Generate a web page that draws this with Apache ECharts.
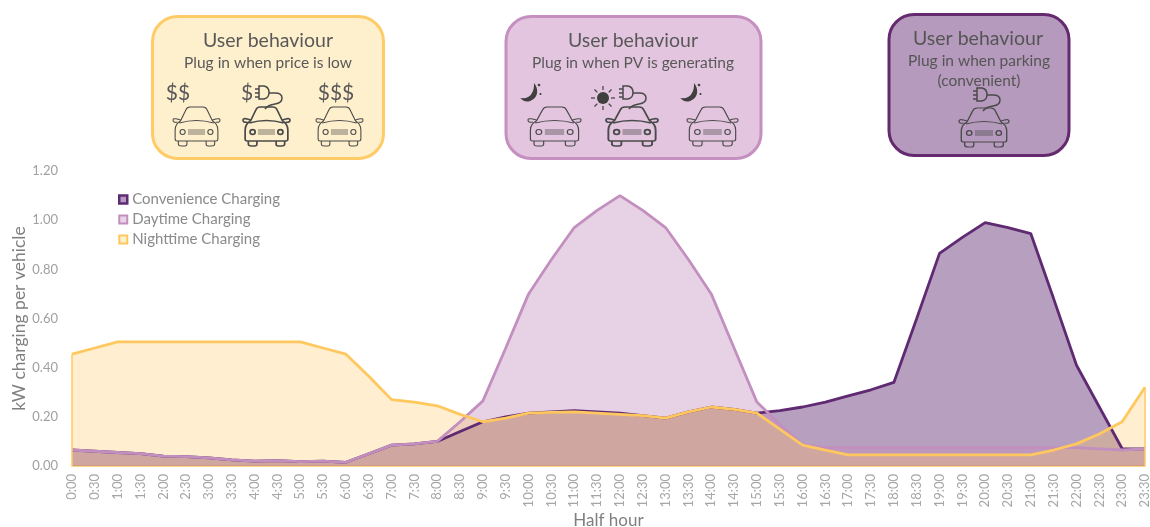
<!DOCTYPE html>
<html><head><meta charset="utf-8">
<style>html,body{margin:0;padding:0;background:#fff}#c{width:1150px;height:527px}</style>
<script src="https://cdn.jsdelivr.net/npm/echarts@6/dist/echarts.min.js"></script>
</head><body><div id="c"></div>
<script>
const halfHours = ['0:00','0:30','1:00','1:30','2:00','2:30','3:00','3:30','4:00','4:30','5:00','5:30','6:00','6:30','7:00','7:30','8:00','8:30','9:00','9:30','10:00','10:30','11:00','11:30','12:00','12:30','13:00','13:30','14:00','14:30','15:00','15:30','16:00','16:30','17:00','17:30','18:00','18:30','19:00','19:30','20:00','20:30','21:00','21:30','22:00','22:30','23:00','23:30'];
const convenience = [0.065,0.06,0.055,0.05,0.04,0.038,0.033,0.025,0.02,0.022,0.018,0.02,0.015,0.05,0.085,0.09,0.1,0.14,0.18,0.2,0.215,0.22,0.225,0.22,0.215,0.205,0.195,0.22,0.24,0.23,0.215,0.225,0.24,0.26,0.285,0.31,0.34,0.6,0.865,0.93,0.99,0.97,0.945,0.68,0.41,0.24,0.07,0.07];
const daytime = [0.065,0.06,0.055,0.05,0.04,0.038,0.033,0.025,0.02,0.022,0.018,0.02,0.015,0.05,0.085,0.09,0.1,0.18,0.265,0.48,0.70,0.84,0.97,1.04,1.10,1.04,0.97,0.84,0.70,0.48,0.26,0.17,0.085,0.075,0.075,0.075,0.075,0.075,0.075,0.075,0.075,0.075,0.075,0.075,0.075,0.07,0.065,0.07];
const nighttime = [0.455,0.48,0.505,0.505,0.505,0.505,0.505,0.505,0.505,0.505,0.505,0.48,0.455,0.365,0.27,0.26,0.245,0.21,0.18,0.195,0.215,0.218,0.22,0.215,0.21,0.205,0.195,0.22,0.24,0.23,0.215,0.15,0.085,0.065,0.045,0.045,0.045,0.045,0.045,0.045,0.045,0.045,0.045,0.065,0.09,0.13,0.18,0.32];
const seriesNames = ['Convenience Charging','Daytime Charging','Nighttime Charging'];

const C_CONV='#5F2A72', C_DAY='#C28FBF', C_NIGHT='#FFC85F';
const INK='#4a4a4a';

const reg=(name,d)=>echarts.graphic.registerShape(name,echarts.graphic.extendPath(d,{}));
reg('carBody','M9 15 L14 4 Q15 1 18 1 L30 1 Q33 1 34 4 L39 15 M8 17 Q24 12 40 17 M9 15 Q4 18 4 24 L4 33 Q4 35 6 35 L42 35 Q44 35 44 33 L44 24 Q44 18 39 15 M7 35 L7 38 Q7 40 10 40 L13 40 Q15 40 15 38 L15 35 M33 35 L33 38 Q33 40 35 40 L38 40 Q41 40 41 38 L41 35 M6 16 Q2 17 2 14 Q2 12 6 13 L9 14 M42 16 Q46 17 46 14 Q46 12 42 13 L39 14');
reg('carGrill','M16 24 L32 24 M16 26 L32 26 M16 28 L32 28');
reg('plugCord','M0 3 L4 3 M0 7 L4 7 M0 11 L4 11 M4 0 L9 0 Q14 1 14 6.5 Q14 12 9 13 L4 13 Z M14 7 L20 7 Q27 7 27 12 Q27 17 20 18 Q13 19 10 23');
reg('moonShape','M14 0 C19 6 18 14 12 17 C7 20 3 18 0 15 C6 16 10 14 12 10 C14 7 14 3 14 0 Z');

function car(left,top,width,w){
  const sx=width/44;
  const s={stroke:INK,fill:null,lineWidth:w};
  return {type:'group',x:left-2*sx,y:top-1,scaleX:sx,scaleY:1,children:[
    {type:'carBody',style:s},
    {type:'circle',shape:{cx:11,cy:26,r:2.4},style:s},
    {type:'circle',shape:{cx:37,cy:26,r:2.4},style:s},
    {type:'carGrill',style:{stroke:INK,fill:null,lineWidth:0.7}}
  ]};
}
function plug(x,y){
  return {type:'plugCord',x:x,y:y,style:{stroke:INK,fill:null,lineWidth:1.5}};
}
function moon(x,y){
  return {type:'group',x:x,y:y,children:[
    {type:'moonShape',style:{fill:'#3f3f3f'}},
    {type:'circle',shape:{cx:19,cy:2,r:1.3},style:{fill:'#3f3f3f'}},
    {type:'circle',shape:{cx:20.5,cy:11,r:1.1},style:{fill:'#3f3f3f'}}
  ]};
}
function sun(cx,cy){
  const rays=[];
  for(let i=0;i<8;i++){const a=i*Math.PI/4;rays.push({type:'line',shape:{x1:cx+Math.cos(a)*8,y1:cy+Math.sin(a)*8,x2:cx+Math.cos(a)*12,y2:cy+Math.sin(a)*12},style:{stroke:'#3f3f3f',lineWidth:1.2}});}
  return {type:'group',children:[{type:'circle',shape:{cx:cx,cy:cy,r:6},style:{fill:'#3f3f3f'}}].concat(rays)};
}
function box(x,y,w,h,fill,stroke){
  return {type:'rect',shape:{x:x,y:y,width:w,height:h,r:25},style:{fill:fill,stroke:stroke,lineWidth:3}};
}
function txt(t,x,y,size,color){
  return {type:'text',x:x,y:y,style:{text:t,font:size+'px Lato, Carlito, sans-serif',fill:color||'#595959',textAlign:'center',textVerticalAlign:'middle'}};
}
const deco=[
  box(152.5,16.5,231,142,'#FFF0CD','#FFCB66'),
  txt('User behaviour',268,41,19.5),
  txt('Plug in when price is low',268,63,15.5),
  txt('$$',178,93,21),txt('$',247,93,21),txt('$$$',336,93,21),
  car(173,107,47,1),car(243,107,47,1.6),car(316,107,47,1),plug(255,86),

  box(506,16.5,255,142,'#E3C5DF','#C58FC0'),
  txt('User behaviour',633,41,19.5),
  txt('Plug in when PV is generating',633,63,15.5),
  moon(520,83),sun(603,98),moon(680,83),
  car(528,107,53,1),car(606,107,52,1.6),car(687,107,51,1),plug(619,86),

  box(889,14.5,180,141,'#B59ABD','#64296F'),
  txt('User behaviour',978,39,19.5,'#555'),
  txt('Plug in when parking',979,61,15.5,'#555'),
  txt('(convenient)',979,81,15.5,'#555'),
  car(959,108,50,1.2),plug(973,88)
];

function mkSeries(i,data,color,op,extra){
  return Object.assign({name:seriesNames[i],type:'line',data:data,symbol:'none',smooth:false,
    lineStyle:{color:color,width:2.8},itemStyle:{color:color},
    areaStyle:{color:color,opacity:op,origin:'start'}},extra||{});
}
const ch=echarts.init(document.getElementById('c'),null,{renderer:'canvas'});
ch.setOption({
  animation:false,
  backgroundColor:'#fff',
  grid:{left:72,right:5,top:171,bottom:61,outerBoundsMode:'none'},
  legend:{orient:'vertical',left:113,top:187,itemWidth:8,itemHeight:8,itemGap:5,
    textStyle:{color:'#8a8a8a',fontSize:15,fontFamily:'Lato, Carlito, sans-serif'},
    data:[
      {name:seriesNames[0],icon:'rect',itemStyle:{color:'#B59ABD',borderColor:C_CONV,borderWidth:2.5}},
      {name:seriesNames[1],icon:'rect',itemStyle:{color:'#E9D3E6',borderColor:C_DAY,borderWidth:2}},
      {name:seriesNames[2],icon:'rect',itemStyle:{color:'#FFF0CD',borderColor:C_NIGHT,borderWidth:2}}
    ]},
  xAxis:{type:'category',data:halfHours,boundaryGap:false,
    name:'Half hour',nameLocation:'middle',nameGap:46,nameMoveOverlap:false,
    nameTextStyle:{color:'#7f7f7f',fontSize:17,fontFamily:'Lato, Carlito, sans-serif'},
    axisLine:{show:true,lineStyle:{color:C_NIGHT,width:1.5}},axisTick:{show:false},
    axisLabel:{rotate:90,interval:0,color:'#a6a6a6',fontSize:13,margin:8,fontFamily:'Lato, Carlito, sans-serif'},
    splitLine:{show:false}},
  yAxis:{type:'value',min:0,max:1.2,interval:0.2,
    name:'kW charging per vehicle',nameLocation:'middle',nameGap:44,nameMoveOverlap:false,
    nameTextStyle:{color:'#7f7f7f',fontSize:17.5,fontFamily:'Lato, Carlito, sans-serif'},
    axisLine:{show:false},axisTick:{show:false},splitLine:{show:false},
    axisLabel:{formatter:v=>v.toFixed(2),color:'#a0a0a0',fontSize:13,margin:14,fontFamily:'Lato, Carlito, sans-serif'}},
  series:[
    mkSeries(0,convenience,C_CONV,0.45),
    mkSeries(1,daytime,C_DAY,0.4),
    mkSeries(2,nighttime,C_NIGHT,0.3,{
      markLine:{silent:true,symbol:'none',label:{show:false},lineStyle:{color:C_NIGHT,width:1.5,type:'solid'},
        data:[
          [{coord:[halfHours[0],0]},{coord:[halfHours[0],nighttime[0]]}],
          [{coord:[halfHours[47],0]},{coord:[halfHours[47],nighttime[47]]}]
        ]}
    })
  ],
  graphic:{elements:deco}
});
</script></body></html>
